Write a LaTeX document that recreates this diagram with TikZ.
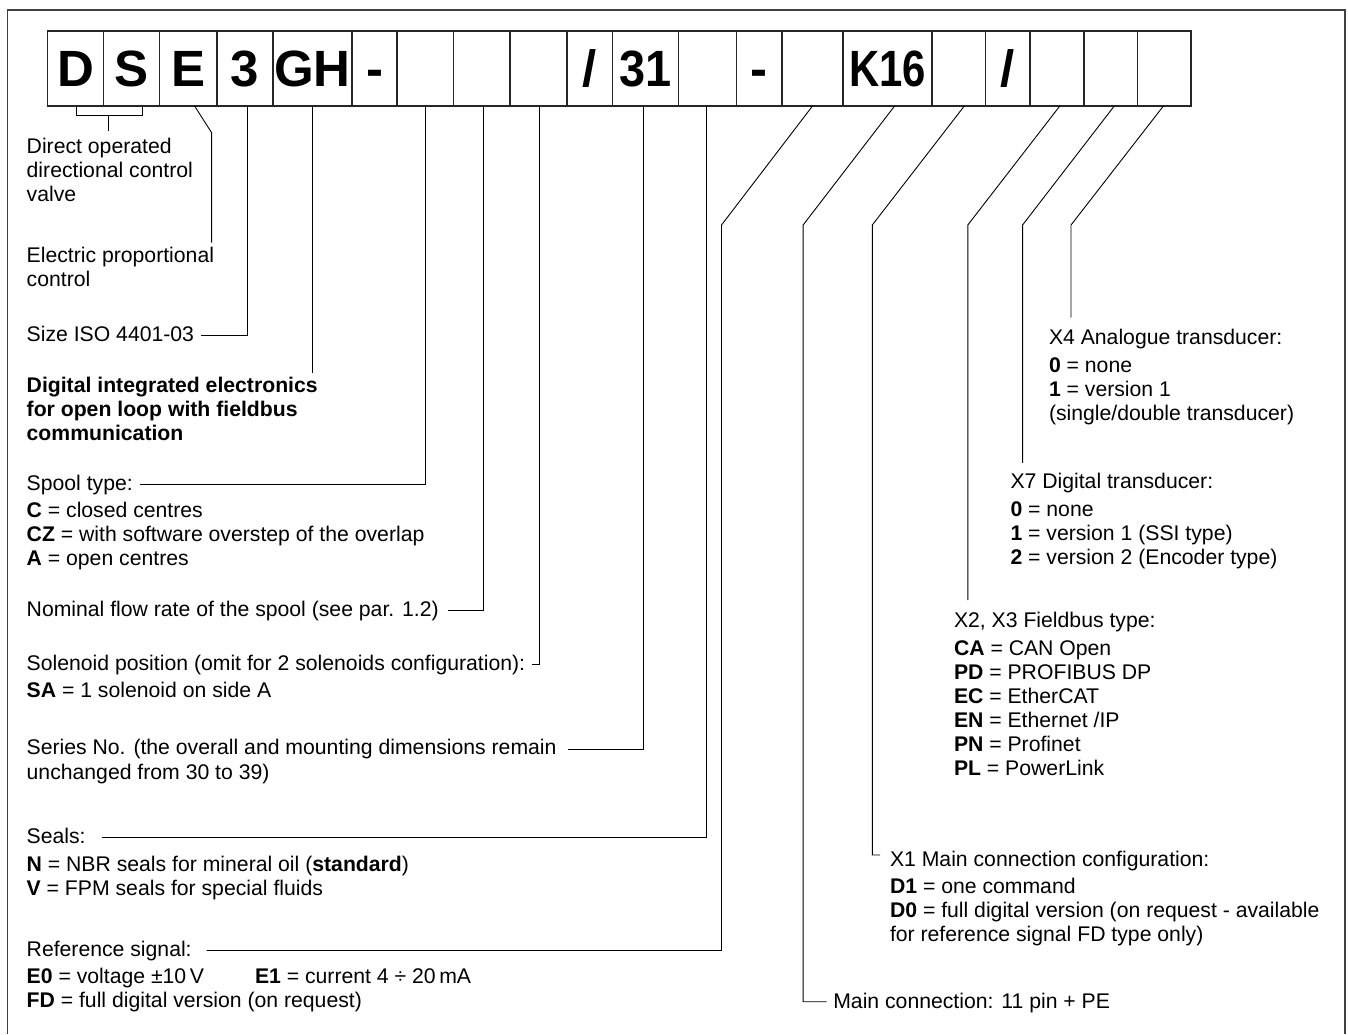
\documentclass[tikz,border=0pt]{standalone}
\usepackage{fontspec}
\setmainfont{Liberation Sans}
\newfontfamily\boxfont{Liberation Sans}
\newfontfamily\boxfontn[FakeStretch=0.92]{Liberation Sans}
\newfontfamily\boxfontk[FakeStretch=0.82]{Liberation Sans}
\usetikzlibrary{calc}
\begin{document}
\begin{tikzpicture}[x=1pt,y=-1pt,
  cell/.style={draw=black!85, line width=1.1pt, minimum height=75pt, inner sep=0pt, outer sep=0pt,
    text height=36.5pt, text depth=0pt, font=\boxfont\bfseries\fontsize{51}{51}\selectfont},
  cellnarrow/.style={cell, font=\boxfontn\bfseries\fontsize{51}{51}\selectfont},
  cellk/.style={cell, font=\boxfontk\bfseries\fontsize{51}{51}\selectfont},
  txt/.style={anchor=base west, inner sep=0pt, outer sep=0pt, text height=15.5pt, text depth=4.5pt,
    font=\fontsize{21.2}{24}\selectfont},
  lead/.style={draw=black, line width=0.9pt},
  frame/.style={draw=black!75, line width=1.6pt}]
\useasboundingbox (0,0) rectangle (1348,1034);
\draw[frame] (7.3,1034) -- (7.3,10) -- (1344.7,10) -- (1344.7,1034);

% code boxes
\node[cell, minimum width=56.5pt] (b1) at (75.55,68.5) {D};
\node[cell, minimum width=56pt]   (b2) at (131.8,68.5) {S};
\node[cell, minimum width=57.2pt] (b3) at (188.4,68.5) {E};
\node[cell, minimum width=56pt]   (b4) at (245,68.5) {3};
\node[cell, minimum width=79pt]   (b5) at (312.5,68.5) {GH};
\node[cell, minimum width=45pt]   (b6) at (374.5,68.5) {-};
\node[cell, minimum width=56.6pt] (b7) at (425.3,68.5) {};
\node[cell, minimum width=56.4pt] (b8) at (481.8,68.5) {};
\node[cell, minimum width=57pt]   (b9) at (538.5,68.5) {};
\node[cell, minimum width=45.5pt] (b10) at (589.75,68.5) {/};
\node[cellnarrow, minimum width=66.1pt] (b11) at (645.55,68.5) {31};
\node[cell, minimum width=58pt]   (b12) at (707.6,68.5) {};
\node[cell, minimum width=45.4pt] (b13) at (759.3,68.5) {-};
\node[cell, minimum width=61pt]   (b14) at (812.5,68.5) {};
\node[cellk, minimum width=89pt]  (b15) at (887.5,68.5) {K16};
\node[cell, minimum width=53.7pt] (b16) at (958.85,68.5) {};
\node[cell, minimum width=44.3pt] (b17) at (1007.85,68.5) {/};
\node[cell, minimum width=54pt]   (b18) at (1057,68.5) {};
\node[cell, minimum width=53.5pt] (b19) at (1110.75,68.5) {};
\node[cell, minimum width=53.5pt] (b20) at (1164.25,68.5) {};

% left column texts
\node[txt] (t1a) at (26.7,153.5) {Direct operated};
\node[txt] (t1b) at (26.7,177.5) {directional control};
\node[txt] (t1c) at (26.7,201.5) {valve};
\node[txt] (t2a) at (26.7,262) {Electric proportional};
\node[txt] (t2b) at (26.7,286) {control};
\node[txt] (t3) at (26.7,341) {Size ISO 4401-03};
\node[txt] (t4a) at (26.7,392) {\textbf{Digital integrated electronics}};
\node[txt] (t4b) at (26.7,416) {\textbf{for open loop with fieldbus}};
\node[txt] (t4c) at (26.7,440) {\textbf{communication}};
\node[txt] (t5a) at (26.7,490) {Spool type:};
\node[txt] (t5b) at (26.7,517.5) {\textbf{C} = closed centres};
\node[txt] (t5c) at (26.7,541.5) {\textbf{CZ} = with software overstep of the overlap};
\node[txt] (t5d) at (26.7,565.5) {\textbf{A} = open centres};
\node[txt] (t6) at (26.7,616) {Nominal flow rate of the spool (see par. 1.2)};
\node[txt] (t7a) at (26.7,670) {Solenoid position (omit for 2 solenoids configuration):};
\node[txt] (t7b) at (26.7,697) {\textbf{SA} = 1 solenoid on side A};
\node[txt] (t8a) at (26.7,754.5) {Series No. (the overall and mounting dimensions remain};
\node[txt] (t8b) at (26.7,779) {unchanged from 30 to 39)};
\node[txt] (t9a) at (26.7,843) {Seals:};
\node[txt] (t9b) at (26.7,871) {\textbf{N} = NBR seals for mineral oil (\textbf{standard})};
\node[txt] (t9c) at (26.7,895) {\textbf{V} = FPM seals for special fluids};
\node[txt] (t10a) at (26.7,956) {Reference signal:};
\node[txt] (t10b) at (26.7,983.5) {\textbf{E0} = voltage ±10\,V};
\node[txt] (t10c) at (255,983.5) {\textbf{E1} = current 4 ÷ 20\,mA};
\node[txt] (t10d) at (26.7,1007) {\textbf{FD} = full digital version (on request)};

% right column texts
\node[txt] (x4a) at (1049,344) {X4 Analogue transducer:};
\node[txt] (x4b) at (1049,372) {\textbf{0} = none};
\node[txt] (x4c) at (1049,396.5) {\textbf{1} = version 1};
\node[txt] (x4d) at (1049,420.5) {(single/double transducer)};
\node[txt] (x7a) at (1010.5,488) {X7 Digital transducer:};
\node[txt] (x7b) at (1010.5,516.5) {\textbf{0} = none};
\node[txt] (x7c) at (1010.5,540.5) {\textbf{1} = version 1 (SSI type)};
\node[txt] (x7d) at (1010.5,564.5) {\textbf{2} = version 2 (Encoder type)};
\node[txt] (x2a) at (954,627) {X2, X3 Fieldbus type:};
\node[txt] (x2b) at (954,655) {\textbf{CA} = CAN Open};
\node[txt] (x2c) at (954,679) {\textbf{PD} = PROFIBUS DP};
\node[txt] (x2d) at (954,703) {\textbf{EC} = EtherCAT};
\node[txt] (x2e) at (954,727) {\textbf{EN} = Ethernet /IP};
\node[txt] (x2f) at (954,751) {\textbf{PN} = Profinet};
\node[txt] (x2g) at (954,775) {\textbf{PL} = PowerLink};
\node[txt] (x1a) at (890,866.5) {X1 Main connection configuration:};
\node[txt] (x1b) at (890,893) {\textbf{D1} = one command};
\node[txt] (x1c) at (890,917) {\textbf{D0} = full digital version (on request - available};
\node[txt] (x1d) at (890,941) {for reference signal FD type only)};
\node[txt] (mc) at (833.3,1008) {Main connection: 11 pin + PE};

% leaders
\draw[lead] ([xshift=1.25]b1.south) -- ++(0,9) -| ([xshift=10.2]b2.south);
\coordinate (dsm) at (108.5,115);
\draw[lead] (dsm) -- ++(0,16);
\draw[lead] ([xshift=6.2]b3.south) -- ++(17,26.7) -- ++(0,110);
\draw[lead] ([xshift=2]b4.south) |- ([xshift=7]t3.east);
\draw[lead] (b5.south) -- ++(0,267);
\draw[lead] (b7.south) |- ([xshift=7.6]t5a.east);
\draw[lead] ([xshift=1.7]b8.south) |- ([xshift=9]t6.east);
\draw[lead] ([xshift=0.5]b9.south) |- ([xshift=6.7]t7a.east);
\draw[lead] ([xshift=-2.5]b11.south) |- ([xshift=11]t8a.east);
\draw[lead] ([xshift=-1.6]b12.south) |- ([xshift=16]t9a.east);
\draw[lead] (b14.south) -- ++(-91,119) |- ([xshift=15]t10a.east);
\draw[lead] ([xshift=7.1]b15.south) -- ++(-91.5,119) |- ([xshift=-6.6,yshift=0.8]mc.west);
\draw[lead] ([xshift=5.45]b16.south) -- ++(-92,119) |- ([xshift=-10,yshift=6]x1a.west);
\draw[lead] ([xshift=2.8]b18.south) -- ++(-92,119) -- ++(0,375);
\draw[lead] ([xshift=3.5]b19.south) -- ++(-91.7,119) -- ++(0,237.8);
\draw[lead] ([xshift=-0.85]b20.south) -- ++(-92.4,119) -- ++(0,92.5);
\end{tikzpicture}
\end{document}
